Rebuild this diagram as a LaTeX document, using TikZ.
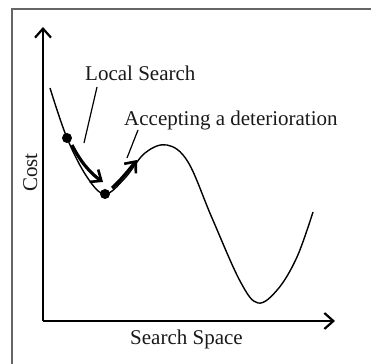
\documentclass[tikz,border=0pt]{standalone}
\usepackage{fontspec}
\setmainfont{Liberation Serif}
\usetikzlibrary{arrows.meta}
\begin{document}
\begin{tikzpicture}[x=1pt,y=1pt,
  lbl/.style={font=\fontsize{21}{25}\selectfont, inner sep=0pt, text=black!90},
  axis/.style={line width=2.4pt, -{Straight Barb[length=9pt,width=16pt,line width=2.2pt]}},
  dotnode/.style={circle, fill=black, inner sep=0pt, minimum size=10pt},
  movearrow/.style={line width=3.2pt, -{Straight Barb[length=9pt,width=15pt,line width=2.6pt]}},
  leader/.style={line width=1.2pt}]
\useasboundingbox (0,0) rectangle (371,363);
\draw[line width=1.5pt, black!60] (12,-5) rectangle (380,354);
% axes
\coordinate (o) at (43,42);
\coordinate (ytip) at (43,336);
\coordinate (xtip) at (335,42);
\draw[axis] (o) -- (ytip);
\draw[axis] (o) -- (xtip);
% curve
\draw[line width=1.4pt] plot[smooth, tension=0.6] coordinates {(50,275) (67,225) (87,186) (105,169) (125,185) (145,210) (167,218) (188,201) (212,145) (240,82) (258,60) (278,74) (297,106) (313,151)};
% dots
\node[dotnode] (d1) at (67,225) {};
\node[dotnode] (d2) at (105,169) {};
% labels
\node[lbl, anchor=base west] (ls) at (85,282) {Local Search};
\node[lbl, anchor=base west] (ad) at (124,237) {Accepting a deterioration};
\node[lbl, anchor=base west] (ss) at (130,18) {Search Space};
\node[lbl, anchor=base west, rotate=90] (cost) at (37,171) {Cost};
% leaders
\coordinate (l1a) at (97,276);
\coordinate (l1b) at (84,220);
\draw[leader] (l1a) -- (l1b);
\coordinate (l2a) at (138,233);
\coordinate (l2b) at (127,205);
\draw[leader] (l2a) -- (l2b);
% move arrows
\coordinate (m1a) at (72,218);
\coordinate (m1b) at (103,181);
\draw[movearrow] (m1a) .. controls (80,202) and (90,190) .. (m1b);
\coordinate (m2a) at (112,175);
\coordinate (m2b) at (137,203);
\draw[movearrow] (m2a) .. controls (120,182) and (128,192) .. (m2b);
\end{tikzpicture}
\end{document}
